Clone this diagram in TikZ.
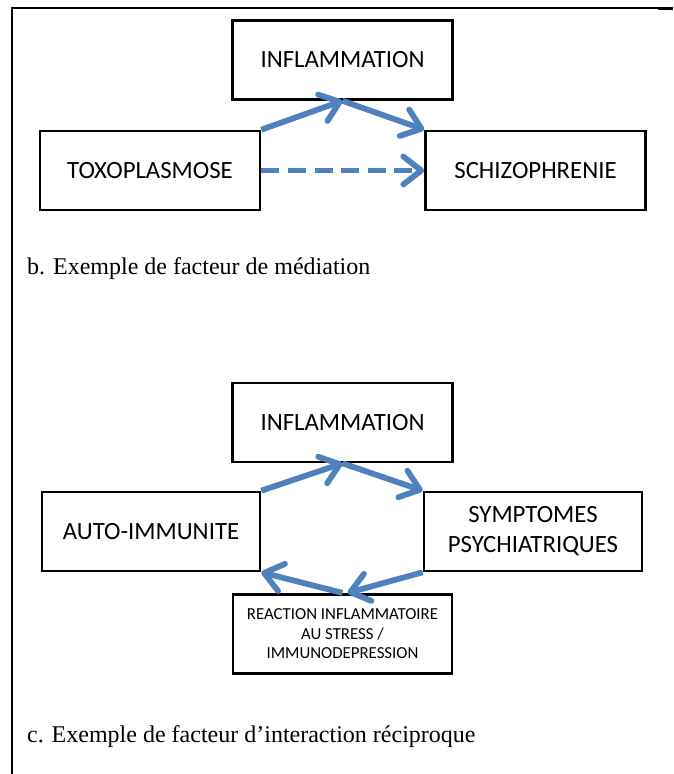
\documentclass[tikz,border=0pt]{standalone}
\usepackage{fontspec}
\setmainfont{Carlito}
\newfontfamily\captionfont{Liberation Serif}
\usetikzlibrary{arrows.meta}
\definecolor{arrowblue}{HTML}{4F81BD}
\tikzset{
  factor/.style={draw, line width=1.3pt, minimum width=110pt, minimum height=39.5pt,
    inner sep=0pt, align=center, font=\fontsize{12.4}{15}\selectfont},
  link/.style={arrowblue, line width=2.9pt,
    -{Straight Barb[round, length=9pt, width=14pt]}},
  legend/.style={anchor=base west, inner sep=0pt, font=\captionfont\fontsize{12}{14}\selectfont}
}
\begin{document}
\begin{tikzpicture}[x=0.5pt, y=-0.5pt]
        \useasboundingbox (0,0) rectangle (673,774);
        % frame
        \draw[line width=0.6pt] (12,774) -- (12,8) -- (673,8);
        \draw[line width=1.2pt] (658,8.5) -- (673,8.5);
        % b. mediation
        \node[factor] (inf1) at (342.5,60) {INFLAMMATION};
        \node[factor] (toxo) at (150,170.5) {TOXOPLASMOSE};
        \node[factor] (schizo) at (535.5,170.5) {SCHIZOPHRENIE};
        \draw[link] (toxo.north east) -- (inf1.south);
        \draw[link] (inf1.south) -- (schizo.north west);
        \draw[link, dash pattern=on 9pt off 4.3pt] (toxo.east) -- (schizo.west);
        \node[legend] (capb) at (26.7,275) {b. Exemple de facteur de médiation};
        % c. interaction
        \node[factor] (inf2) at (342.5,422.5) {INFLAMMATION};
        \node[factor, minimum width=109pt] (auto) at (151,531.5) {AUTO-IMMUNITE};
        \node[factor, minimum width=109pt] (symp) at (533,531.5) {SYMPTOMES\\PSYCHIATRIQUES};
        \node[factor, minimum width=109.5pt, font=\fontsize{8.4}{9.9}\selectfont] (reac) at (342.5,633.7)
          {REACTION INFLAMMATOIRE\\AU STRESS /\\IMMUNODEPRESSION};
        \draw[link] (auto.north east) -- (inf2.south);
        \draw[link] (inf2.south) -- (symp.north west);
        \draw[link] (symp.south west) -- ([xshift=2.5pt]reac.north);
        \draw[link] (reac.north) -- (auto.south east);
        \node[legend] (capc) at (26.7,742) {c. Exemple de facteur d’interaction réciproque};
      \end{tikzpicture}
\end{document}
